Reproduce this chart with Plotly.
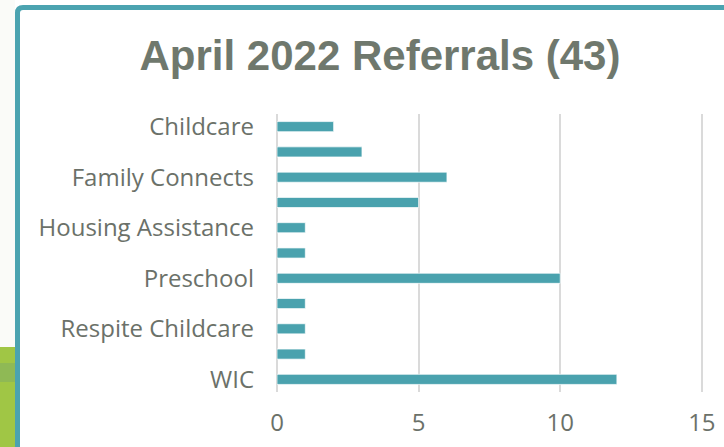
import plotly.graph_objects as go

categories = ["Childcare", "Early Intervention", "Family Connects", "Food Assistance",
              "Housing Assistance", "Mental Health", "Preschool", "Public Health",
              "Respite Childcare", "Speech Therapy", "WIC"]
referrals = [2, 3, 6, 5, 1, 1, 10, 1, 1, 1, 12]
shown_labels = ["Childcare", "Family Connects", "Housing Assistance", "Preschool",
                "Respite Childcare", "WIC"]
x_ticks = [0, 5, 10, 15]
title_text = "April 2022 Referrals (43)"

W, H = 724, 447
L, R, T, B = 277, 703, 114, 392

def px(x):
    return (x - L) / (R - L)

def py(y):
    return (B - y) / (B - T)

fig = go.Figure()
fig.add_trace(go.Bar(
    x=referrals, y=categories, orientation="h",
    marker=dict(color="#4AA2AE", line=dict(color="rgba(255,255,255,0.7)", width=1)),
    hoverinfo="x+y",
))

shapes = [
    dict(type="rect", xref="paper", yref="paper", x0=px(0), x1=px(15), y0=py(0), y1=py(347),
         fillcolor="#FAFBF8", line=dict(width=0), layer="below"),
    dict(type="rect", xref="paper", yref="paper", x0=px(0), x1=px(15), y0=py(347), y1=py(447),
         fillcolor="#A0C645", line=dict(width=0), layer="below"),
    dict(type="rect", xref="paper", yref="paper", x0=px(0), x1=px(15), y0=py(363), y1=py(382),
         fillcolor="#8FB955", line=dict(width=0), layer="below"),
    dict(type="path", xref="paper", yref="paper",
         path=f"M {px(17.5)},{py(450)} L {px(17.5)},{py(13)} Q {px(17.5)},{py(7.5)} {px(23)},{py(7.5)} L {px(730)},{py(7.5)}",
         line=dict(color="#4BA3B0", width=5), layer="above"),
]

fig.update_layout(
    width=W, height=H,
    margin=dict(l=L, r=W - R, t=T, b=H - B, pad=0, autoexpand=False),
    paper_bgcolor="white", plot_bgcolor="white",
    showlegend=False,
    bargap=0.6,
    shapes=shapes,
    title=dict(text=f"<b>{title_text}</b>", x=380 / W, xanchor="center",
               y=1 - 55 / H, yanchor="middle",
               font=dict(family="Liberation Sans, Arial, sans-serif", size=42, color="#6F786D")),
    xaxis=dict(range=[0, 15.04], tickvals=x_ticks, showgrid=True, gridcolor="#DADADA", gridwidth=2,
               zeroline=True, zerolinecolor="#DADADA", zerolinewidth=2, showline=False, ticks="",
               automargin=False,
               tickfont=dict(family="Open Sans", size=24, color="#6B7169"), ticklabelstandoff=14),
    yaxis=dict(categoryorder="array", categoryarray=categories, autorange="reversed",
               tickvals=shown_labels, showgrid=False, zeroline=False, showline=False, ticks="",
               automargin=False,
               tickfont=dict(family="Open Sans", size=24, color="#6B7169"), ticklabelstandoff=22),
)

fig.write_html("out.html", config={"displayModeBar": False},
               post_script="document.body.style.margin='0px';")
